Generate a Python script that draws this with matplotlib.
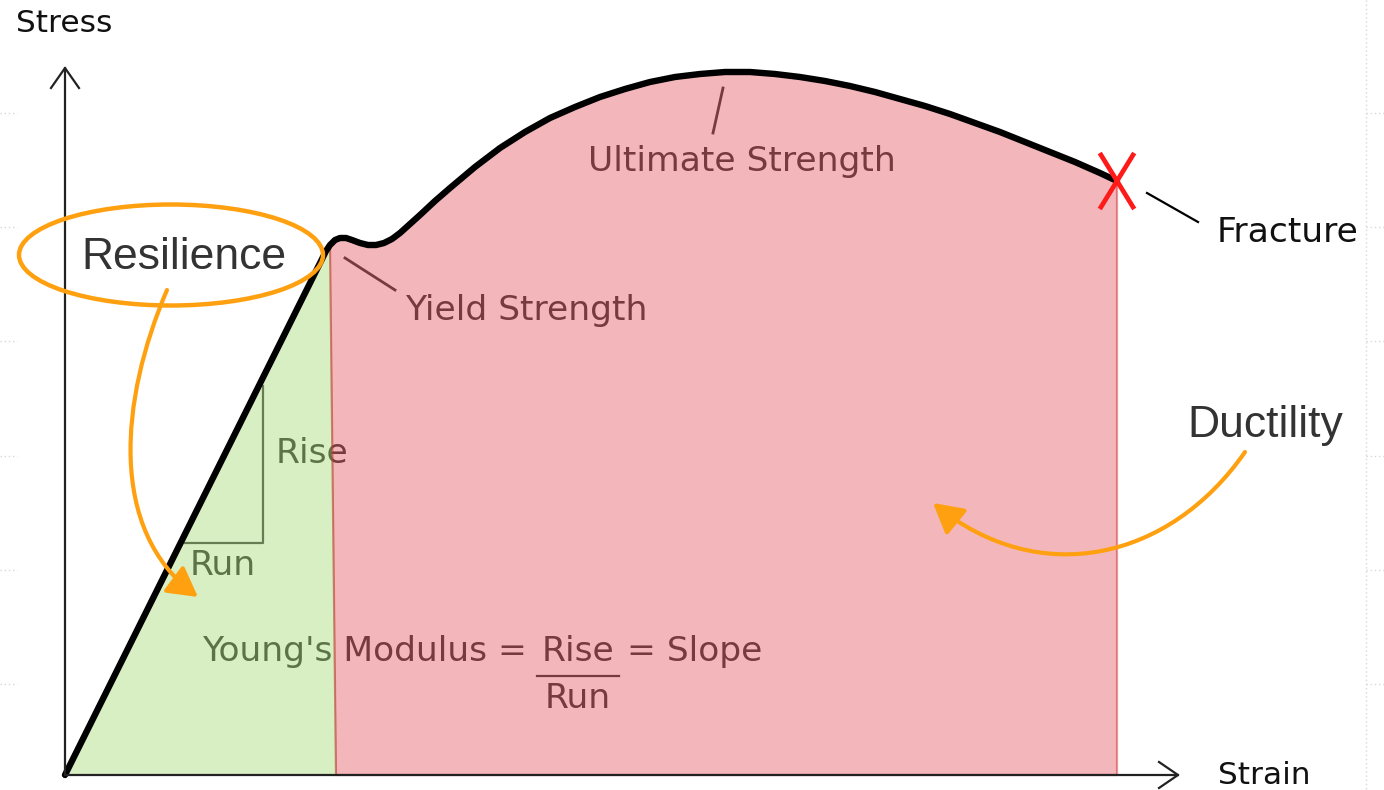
import matplotlib
matplotlib.use("Agg")
import matplotlib.pyplot as plt
from matplotlib.patches import Ellipse, Polygon, FancyArrowPatch, ArrowStyle
from matplotlib.path import Path

# ----------------------------------------------------------------------
# Curve data (traced in picture pixels: x to the right, y downwards)
# ----------------------------------------------------------------------
elastic_x = [65, 326]
elastic_y = [775, 251]

plastic_x = [326, 330, 335, 340, 346, 352, 360, 368, 376, 384, 392, 400, 410,
             420, 435, 450, 475, 500, 525, 550, 575, 600, 625, 650, 675, 700,
             725, 750, 775, 800, 825, 850, 875, 900, 925, 950, 975, 1000,
             1025, 1050, 1075, 1100, 1117]
plastic_y = [251, 245, 240, 238, 238, 240, 243, 245, 245, 243, 239, 233, 224,
             215, 201, 188, 167, 148, 132, 118, 107, 97, 89, 82, 77, 74,
             72, 72, 74, 77, 81, 86, 92, 99, 106, 114, 123, 132,
             142, 152, 162, 173, 181]

axis_labels = ["Stress", "Strain"]
point_labels = ["Yield Strength", "Ultimate Strength", "Fracture"]
area_labels = ["Resilience", "Ductility"]
grid_y = [113, 227, 341, 456, 570, 684]

W, H = 1384, 790
TEXT = "#4d4d4d"
FS = 24.8


def main():
    fig = plt.figure(figsize=(W / 100, H / 100), dpi=100)
    ax = fig.add_axes([0, 0, 1, 1])
    ax.set_xlim(0, W)
    ax.set_ylim(H, 0)
    ax.axis("off")

    # faint dotted grid remnants at the edges
    for gy in grid_y:
        ax.plot([0, 17], [gy, gy], ls=(0, (1, 2)), color="#d8d8d8", lw=1, zorder=0)
        ax.plot([1366, W], [gy, gy], ls=(0, (1, 2)), color="#d8d8d8", lw=1, zorder=0)
    ax.plot([1366, 1366], [0, H], ls=(0, (1, 2)), color="#d8d8d8", lw=1, zorder=0)

    # axes with open arrowheads
    x0, y0 = elastic_x[0], elastic_y[0]
    ax.plot([x0, x0], [y0, 68], color="#222222", lw=1.6, zorder=4)
    ax.plot([51, x0, 79], [88, 68, 88], color="#222222", lw=1.6, zorder=4)
    ax.plot([x0, 1178], [y0, y0], color="#222222", lw=1.6, zorder=4)
    ax.plot([1159, 1178, 1159], [762, y0, 788], color="#222222", lw=1.6, zorder=4)
    ax.text(64, 32, axis_labels[0], fontsize=22.5, ha="center", va="baseline",
            color="#111111", family="DejaVu Sans")
    ax.text(1264, 784, axis_labels[1], fontsize=22.5, ha="center", va="baseline",
            color="#111111", family="DejaVu Sans")

    # labels that sit underneath the translucent fills
    kw = dict(fontsize=FS, color=TEXT, family="DejaVu Sans", va="baseline", zorder=1)
    ax.text(405, 320, point_labels[0], ha="left", **kw)
    ax.text(742, 171, point_labels[1], ha="center", **kw)
    ax.plot([345, 395], [258, 290], color=TEXT, lw=2, zorder=1)
    ax.plot([723, 713], [88, 133], color=TEXT, lw=2, zorder=1)

    ax.text(276, 463, "Rise", ha="left", **kw)
    ax.text(223, 575, "Run", ha="center", **kw)
    ax.plot([185, 263, 263], [543, 543, 386], color="#5c5c5c", lw=1.6, zorder=1)

    ax.text(527, 661, "Young's Modulus =", ha="right", **kw)
    ax.text(578, 661, "Rise", ha="center", **kw)
    ax.text(627, 661, "= Slope", ha="left", **kw)
    ax.plot([537, 619], [676, 676], color=TEXT, lw=1.6, zorder=1)
    ax.text(578, 708, "Run", ha="center", **kw)

    # filled areas
    green = Polygon([(elastic_x[0], elastic_y[0]), (elastic_x[1], elastic_y[1]),
                     (plastic_x[1], plastic_y[1]), (336, 775)],
                    closed=True, facecolor=(0.49, 0.80, 0.23, 0.30),
                    edgecolor=(0.40, 0.75, 0.20, 0.35), lw=1.2, zorder=2)
    ax.add_patch(green)
    pink_pts = list(zip(plastic_x[1:], plastic_y[1:])) + [(plastic_x[-1], 775), (336, 775)]
    pink = Polygon(pink_pts, closed=True, facecolor=(0.855, 0.07, 0.125, 0.30),
                   edgecolor=(0.80, 0.10, 0.15, 0.45), lw=1.6, zorder=2)
    ax.add_patch(pink)

    # stress-strain curve
    ax.plot(elastic_x + plastic_x[1:], elastic_y + plastic_y[1:], color="black",
            lw=4.6, solid_joinstyle="round", solid_capstyle="round", zorder=3)

    # fracture mark
    fx, fy = plastic_x[-1], plastic_y[-1]
    ax.plot([fx - 16, fx + 16], [fy - 26, fy + 26], color="#ff1a1a", lw=3.4, zorder=5)
    ax.plot([fx - 16, fx + 16], [fy + 26, fy - 26], color="#ff1a1a", lw=3.4, zorder=5)
    ax.plot([1147, 1198], [193, 222], color="black", lw=1.6, zorder=4)
    ax.text(1217, 242, point_labels[2], fontsize=FS, ha="left", va="baseline",
            color="#111111", family="DejaVu Sans")

    # orange annotations
    orange = "#ffa010"
    ax.add_patch(Ellipse((171, 255), 304, 101, fill=False, edgecolor=orange,
                         lw=3.2, zorder=6))
    ax.text(184, 269, area_labels[0], fontsize=32, ha="center", va="baseline",
            color="#333333", family="Liberation Sans", zorder=7)
    ax.text(1265, 437, area_labels[1], fontsize=32, ha="center", va="baseline",
            color="#333333", family="Liberation Sans", zorder=7)

    style = ArrowStyle("-|>", head_length=0.9, head_width=0.5)
    res_path = Path([(167, 290), (120, 400), (108, 530), (198, 597)],
                    [Path.MOVETO, Path.CURVE4, Path.CURVE4, Path.CURVE4])
    ax.add_patch(FancyArrowPatch(path=res_path, arrowstyle=style, mutation_scale=20,
                                 color=orange, lw=3, zorder=6))
    duc_path = Path([(1245, 452), (1170, 560), (1040, 590), (933, 503)],
                    [Path.MOVETO, Path.CURVE4, Path.CURVE4, Path.CURVE4])
    ax.add_patch(FancyArrowPatch(path=duc_path, arrowstyle=style, mutation_scale=20,
                                 color=orange, lw=3, zorder=6))

    fig.savefig("out.png", dpi=100)
    plt.close(fig)


if __name__ == "__main__":
    main()
